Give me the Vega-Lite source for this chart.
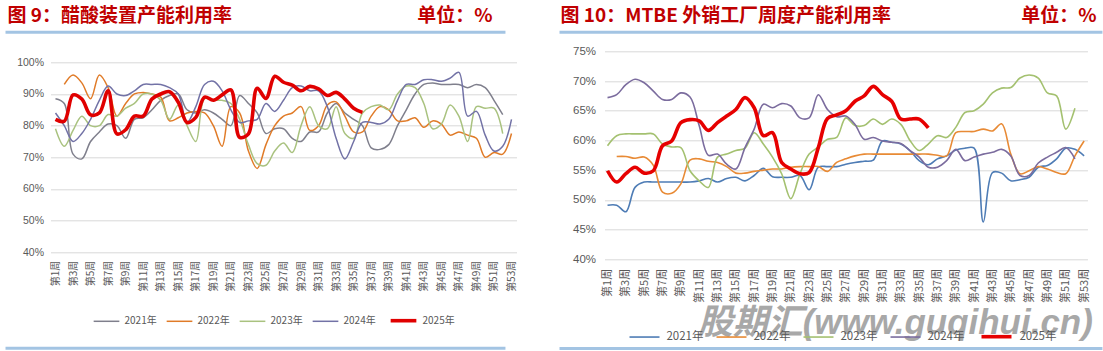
{
"$schema":"https://vega.github.io/schema/vega-lite/v6.json",
"background":"white",
"padding":{"left":3.5,"top":6.3,"right":0,"bottom":0},
"spacing":40,
"config":{"view":{"stroke":null},"font":"Noto Sans CJK SC"},
"resolve":{"scale":{"color":"independent","strokeWidth":"independent"}},
"datasets":{
"acetic":[
{"year":"2021年","week":1,"value":88.5},{"year":"2021年","week":2,"value":87},{"year":"2021年","week":3,"value":71},{"year":"2021年","week":4,"value":69.5},{"year":"2021年","week":5,"value":75},{"year":"2021年","week":6,"value":78},{"year":"2021年","week":7,"value":80.5},{"year":"2021年","week":8,"value":80},{"year":"2021年","week":9,"value":76},{"year":"2021年","week":10,"value":82},
{"year":"2021年","week":11,"value":82.5},{"year":"2021年","week":12,"value":85},{"year":"2021年","week":13,"value":88},{"year":"2021年","week":14,"value":89.5},{"year":"2021年","week":15,"value":90},{"year":"2021年","week":16,"value":85},{"year":"2021年","week":17,"value":84},{"year":"2021年","week":18,"value":85},{"year":"2021年","week":19,"value":84},{"year":"2021年","week":20,"value":82},
{"year":"2021年","week":21,"value":80},{"year":"2021年","week":22,"value":89.5},{"year":"2021年","week":23,"value":87},{"year":"2021年","week":24,"value":84},{"year":"2021年","week":25,"value":77.5},{"year":"2021年","week":26,"value":79},{"year":"2021年","week":27,"value":79},{"year":"2021年","week":28,"value":76},{"year":"2021年","week":29,"value":75},{"year":"2021年","week":30,"value":78},
{"year":"2021年","week":31,"value":78},{"year":"2021年","week":32,"value":84},{"year":"2021年","week":33,"value":87},{"year":"2021年","week":34,"value":84},{"year":"2021年","week":35,"value":82},{"year":"2021年","week":36,"value":80},{"year":"2021年","week":37,"value":73},{"year":"2021年","week":38,"value":72.5},{"year":"2021年","week":39,"value":74},{"year":"2021年","week":40,"value":80},
{"year":"2021年","week":41,"value":85},{"year":"2021年","week":42,"value":90},{"year":"2021年","week":43,"value":93},{"year":"2021年","week":44,"value":93.5},{"year":"2021年","week":45,"value":93},{"year":"2021年","week":46,"value":93},{"year":"2021年","week":47,"value":93},{"year":"2021年","week":48,"value":92},{"year":"2021年","week":49,"value":93},{"year":"2021年","week":50,"value":92},
{"year":"2021年","week":51,"value":88},{"year":"2021年","week":52,"value":83.5},
{"year":"2022年","week":2,"value":93},{"year":"2022年","week":3,"value":96},{"year":"2022年","week":4,"value":93.5},{"year":"2022年","week":5,"value":88.5},{"year":"2022年","week":6,"value":96},{"year":"2022年","week":7,"value":92},{"year":"2022年","week":8,"value":83},{"year":"2022年","week":9,"value":87},{"year":"2022年","week":10,"value":90},
{"year":"2022年","week":11,"value":90.5},{"year":"2022年","week":12,"value":90},{"year":"2022年","week":13,"value":89},{"year":"2022年","week":14,"value":81.5},{"year":"2022年","week":15,"value":82.5},{"year":"2022年","week":16,"value":84},{"year":"2022年","week":17,"value":84.5},{"year":"2022年","week":18,"value":84},{"year":"2022年","week":19,"value":80},{"year":"2022年","week":20,"value":73.5},
{"year":"2022年","week":21,"value":86},{"year":"2022年","week":22,"value":84},{"year":"2022年","week":23,"value":72},{"year":"2022年","week":24,"value":66.5},{"year":"2022年","week":25,"value":74},{"year":"2022年","week":26,"value":80},{"year":"2022年","week":27,"value":83},{"year":"2022年","week":28,"value":84},{"year":"2022年","week":29,"value":86},{"year":"2022年","week":30,"value":78.5},
{"year":"2022年","week":31,"value":80},{"year":"2022年","week":32,"value":86.5},{"year":"2022年","week":33,"value":87.5},{"year":"2022年","week":34,"value":83},{"year":"2022年","week":35,"value":78},{"year":"2022年","week":36,"value":78},{"year":"2022年","week":37,"value":83},{"year":"2022年","week":38,"value":86},{"year":"2022年","week":39,"value":85},{"year":"2022年","week":40,"value":81.5},
{"year":"2022年","week":41,"value":81.5},{"year":"2022年","week":42,"value":82.5},{"year":"2022年","week":43,"value":79.5},{"year":"2022年","week":44,"value":81.5},{"year":"2022年","week":45,"value":80.5},{"year":"2022年","week":46,"value":77},{"year":"2022年","week":47,"value":78},{"year":"2022年","week":48,"value":77},{"year":"2022年","week":49,"value":76},{"year":"2022年","week":50,"value":70},
{"year":"2022年","week":51,"value":71.5},{"year":"2022年","week":52,"value":71},{"year":"2022年","week":53,"value":77.5},
{"year":"2023年","week":1,"value":79},{"year":"2023年","week":2,"value":73.5},{"year":"2023年","week":3,"value":78.5},{"year":"2023年","week":4,"value":83},{"year":"2023年","week":5,"value":80},{"year":"2023年","week":6,"value":80},{"year":"2023年","week":7,"value":83.5},{"year":"2023年","week":8,"value":83},{"year":"2023年","week":9,"value":85.5},{"year":"2023年","week":10,"value":87},
{"year":"2023年","week":11,"value":90},{"year":"2023年","week":12,"value":90},{"year":"2023年","week":13,"value":88},{"year":"2023年","week":14,"value":82},{"year":"2023年","week":15,"value":86.5},{"year":"2023年","week":16,"value":80},{"year":"2023年","week":17,"value":75},{"year":"2023年","week":18,"value":88.5},{"year":"2023年","week":19,"value":88},{"year":"2023年","week":20,"value":88},
{"year":"2023年","week":21,"value":87},{"year":"2023年","week":22,"value":82},{"year":"2023年","week":23,"value":74},{"year":"2023年","week":24,"value":68},{"year":"2023年","week":25,"value":67.5},{"year":"2023年","week":26,"value":72},{"year":"2023年","week":27,"value":74.5},{"year":"2023年","week":28,"value":71.5},{"year":"2023年","week":29,"value":80},{"year":"2023年","week":30,"value":86},
{"year":"2023年","week":31,"value":80},{"year":"2023年","week":32,"value":79},{"year":"2023年","week":33,"value":86},{"year":"2023年","week":34,"value":77.5},{"year":"2023年","week":35,"value":76},{"year":"2023年","week":36,"value":84},{"year":"2023年","week":37,"value":86},{"year":"2023年","week":38,"value":86.5},{"year":"2023年","week":39,"value":85},{"year":"2023年","week":40,"value":90},
{"year":"2023年","week":41,"value":92.5},{"year":"2023年","week":42,"value":92},{"year":"2023年","week":43,"value":87},{"year":"2023年","week":44,"value":79},{"year":"2023年","week":45,"value":80.5},{"year":"2023年","week":46,"value":86.5},{"year":"2023年","week":47,"value":83},{"year":"2023年","week":48,"value":75},{"year":"2023年","week":49,"value":86},{"year":"2023年","week":50,"value":85.5},
{"year":"2023年","week":51,"value":85.5},{"year":"2023年","week":52,"value":77.5},
{"year":"2024年","week":1,"value":84},{"year":"2024年","week":2,"value":80},{"year":"2024年","week":3,"value":75},{"year":"2024年","week":4,"value":77.5},{"year":"2024年","week":5,"value":82},{"year":"2024年","week":6,"value":88},{"year":"2024年","week":7,"value":92.5},{"year":"2024年","week":8,"value":90},{"year":"2024年","week":9,"value":89.5},{"year":"2024年","week":10,"value":91},
{"year":"2024年","week":11,"value":93},{"year":"2024年","week":12,"value":93},{"year":"2024年","week":13,"value":93},{"year":"2024年","week":14,"value":92},{"year":"2024年","week":15,"value":90},{"year":"2024年","week":16,"value":81},{"year":"2024年","week":17,"value":86},{"year":"2024年","week":18,"value":93},{"year":"2024年","week":19,"value":94},{"year":"2024年","week":20,"value":91},
{"year":"2024年","week":21,"value":85},{"year":"2024年","week":22,"value":81},{"year":"2024年","week":23,"value":81.5},{"year":"2024年","week":24,"value":82},{"year":"2024年","week":25,"value":87},{"year":"2024年","week":26,"value":84.5},{"year":"2024年","week":27,"value":88},{"year":"2024年","week":28,"value":92},{"year":"2024年","week":29,"value":92.5},{"year":"2024年","week":30,"value":91},
{"year":"2024年","week":31,"value":91},{"year":"2024年","week":32,"value":86},{"year":"2024年","week":33,"value":76},{"year":"2024年","week":34,"value":69.5},{"year":"2024年","week":35,"value":75},{"year":"2024年","week":36,"value":81},{"year":"2024年","week":37,"value":81},{"year":"2024年","week":38,"value":80.5},{"year":"2024年","week":39,"value":82},{"year":"2024年","week":40,"value":88},
{"year":"2024年","week":41,"value":93},{"year":"2024年","week":42,"value":93},{"year":"2024年","week":43,"value":94.5},{"year":"2024年","week":44,"value":94.5},{"year":"2024年","week":45,"value":94},{"year":"2024年","week":46,"value":95},{"year":"2024年","week":47,"value":96.8},{"year":"2024年","week":48,"value":83},{"year":"2024年","week":49,"value":84.5},{"year":"2024年","week":50,"value":77},
{"year":"2024年","week":51,"value":72},{"year":"2024年","week":52,"value":73.5},{"year":"2024年","week":53,"value":82},
{"year":"2025年","week":1,"value":82},{"year":"2025年","week":2,"value":81.4},{"year":"2025年","week":3,"value":89.7},{"year":"2025年","week":4,"value":88.4},{"year":"2025年","week":5,"value":83.4},{"year":"2025年","week":6,"value":84},{"year":"2025年","week":7,"value":91},{"year":"2025年","week":8,"value":77.4},{"year":"2025年","week":9,"value":78.7},{"year":"2025年","week":10,"value":83},
{"year":"2025年","week":11,"value":83},{"year":"2025年","week":12,"value":88.4},{"year":"2025年","week":13,"value":90},{"year":"2025年","week":14,"value":90.7},{"year":"2025年","week":15,"value":87.4},{"year":"2025年","week":16,"value":81},{"year":"2025年","week":17,"value":82.6},{"year":"2025年","week":18,"value":89},{"year":"2025年","week":19,"value":88},{"year":"2025年","week":20,"value":89.7},
{"year":"2025年","week":21,"value":91.3},{"year":"2025年","week":22,"value":76.3},{"year":"2025年","week":23,"value":77.4},{"year":"2025年","week":24,"value":91.8},{"year":"2025年","week":25,"value":88.6},{"year":"2025年","week":26,"value":95.6},{"year":"2025年","week":27,"value":93.7},{"year":"2025年","week":28,"value":92.8},{"year":"2025年","week":29,"value":91},{"year":"2025年","week":30,"value":92.4},
{"year":"2025年","week":31,"value":91.6},{"year":"2025年","week":32,"value":89.5},{"year":"2025年","week":33,"value":90.5},{"year":"2025年","week":34,"value":88.4},{"year":"2025年","week":35,"value":85.5},{"year":"2025年","week":36,"value":84.2}
],
"mtbe":[
{"year":"2021年","week":1,"value":49.1},{"year":"2021年","week":2,"value":49.1},{"year":"2021年","week":3,"value":48},{"year":"2021年","week":4,"value":52.1},{"year":"2021年","week":5,"value":53},{"year":"2021年","week":6,"value":53},{"year":"2021年","week":7,"value":53},{"year":"2021年","week":8,"value":53},{"year":"2021年","week":9,"value":53},{"year":"2021年","week":10,"value":53},
{"year":"2021年","week":11,"value":53.2},{"year":"2021年","week":12,"value":53.6},{"year":"2021年","week":13,"value":53},{"year":"2021年","week":14,"value":53.6},{"year":"2021年","week":15,"value":53.8},{"year":"2021年","week":16,"value":53.2},{"year":"2021年","week":17,"value":54.1},{"year":"2021年","week":18,"value":55.3},{"year":"2021年","week":19,"value":53.9},{"year":"2021年","week":20,"value":53.8},
{"year":"2021年","week":21,"value":53.8},{"year":"2021年","week":22,"value":54.1},{"year":"2021年","week":23,"value":51.7},{"year":"2021年","week":24,"value":55.5},{"year":"2021年","week":25,"value":55.6},{"year":"2021年","week":26,"value":55.6},{"year":"2021年","week":27,"value":56},{"year":"2021年","week":28,"value":56.3},{"year":"2021年","week":29,"value":56.5},{"year":"2021年","week":30,"value":56.7},
{"year":"2021年","week":31,"value":59.9},{"year":"2021年","week":32,"value":59.7},{"year":"2021年","week":33,"value":59.4},{"year":"2021年","week":34,"value":58.3},{"year":"2021年","week":35,"value":56.6},{"year":"2021年","week":36,"value":55.9},{"year":"2021年","week":37,"value":56.9},{"year":"2021年","week":38,"value":57.4},{"year":"2021年","week":39,"value":58.4},{"year":"2021年","week":40,"value":58.7},
{"year":"2021年","week":41,"value":58.7},{"year":"2021年","week":42,"value":46.3},{"year":"2021年","week":43,"value":54.6},{"year":"2021年","week":44,"value":54.5},{"year":"2021年","week":45,"value":53.2},{"year":"2021年","week":46,"value":53.4},{"year":"2021年","week":47,"value":53.8},{"year":"2021年","week":48,"value":55.5},{"year":"2021年","week":49,"value":55.8},{"year":"2021年","week":50,"value":56.9},
{"year":"2021年","week":51,"value":58.7},{"year":"2021年","week":52,"value":58.5},{"year":"2021年","week":53,"value":57.4},
{"year":"2022年","week":2,"value":57.3},{"year":"2022年","week":3,"value":57.3},{"year":"2022年","week":4,"value":57},{"year":"2022年","week":5,"value":57.2},{"year":"2022年","week":6,"value":55.8},{"year":"2022年","week":7,"value":51.3},{"year":"2022年","week":8,"value":51.1},{"year":"2022年","week":9,"value":52.7},{"year":"2022年","week":10,"value":56.7},
{"year":"2022年","week":11,"value":56.9},{"year":"2022年","week":12,"value":56.5},{"year":"2022年","week":13,"value":56.3},{"year":"2022年","week":14,"value":55.6},{"year":"2022年","week":15,"value":54.5},{"year":"2022年","week":16,"value":54.5},{"year":"2022年","week":17,"value":54.8},{"year":"2022年","week":18,"value":55},{"year":"2022年","week":19,"value":55.2},{"year":"2022年","week":20,"value":55.2},
{"year":"2022年","week":21,"value":55.5},{"year":"2022年","week":22,"value":55.6},{"year":"2022年","week":23,"value":55.6},{"year":"2022年","week":24,"value":55.6},{"year":"2022年","week":25,"value":54.8},{"year":"2022年","week":26,"value":56.3},{"year":"2022年","week":27,"value":56.9},{"year":"2022年","week":28,"value":57.4},{"year":"2022年","week":29,"value":57.7},{"year":"2022年","week":30,"value":57.7},
{"year":"2022年","week":31,"value":57.7},{"year":"2022年","week":32,"value":57.7},{"year":"2022年","week":33,"value":57.7},{"year":"2022年","week":34,"value":57.7},{"year":"2022年","week":35,"value":57.7},{"year":"2022年","week":36,"value":57.7},{"year":"2022年","week":37,"value":57.5},{"year":"2022年","week":38,"value":57.4},{"year":"2022年","week":39,"value":61.3},{"year":"2022年","week":40,"value":61.5},
{"year":"2022年","week":41,"value":61.5},{"year":"2022年","week":42,"value":61.9},{"year":"2022年","week":43,"value":61.6},{"year":"2022年","week":44,"value":62.8},{"year":"2022年","week":45,"value":57.7},{"year":"2022年","week":46,"value":54.4},{"year":"2022年","week":47,"value":54.9},{"year":"2022年","week":48,"value":55.6},{"year":"2022年","week":49,"value":55.2},{"year":"2022年","week":50,"value":54.6},
{"year":"2022年","week":51,"value":54.4},{"year":"2022年","week":52,"value":57.4},{"year":"2022年","week":53,"value":59.9},
{"year":"2023年","week":1,"value":59.1},{"year":"2023年","week":2,"value":60.8},{"year":"2023年","week":3,"value":61.1},{"year":"2023年","week":4,"value":61.1},{"year":"2023年","week":5,"value":61.1},{"year":"2023年","week":6,"value":61.1},{"year":"2023年","week":7,"value":59.4},{"year":"2023年","week":8,"value":58.9},{"year":"2023年","week":9,"value":58.8},{"year":"2023年","week":10,"value":54.9},
{"year":"2023年","week":11,"value":53.2},{"year":"2023年","week":12,"value":52.1},{"year":"2023年","week":13,"value":57.2},{"year":"2023年","week":14,"value":57.7},{"year":"2023年","week":15,"value":58.3},{"year":"2023年","week":16,"value":58.7},{"year":"2023年","week":17,"value":61.3},{"year":"2023年","week":18,"value":59.4},{"year":"2023年","week":19,"value":57.2},{"year":"2023年","week":20,"value":54.4},
{"year":"2023年","week":21,"value":50.2},{"year":"2023年","week":22,"value":54.4},{"year":"2023年","week":23,"value":57.7},{"year":"2023年","week":24,"value":58.9},{"year":"2023年","week":25,"value":60.2},{"year":"2023年","week":26,"value":60.5},{"year":"2023年","week":27,"value":63.8},{"year":"2023年","week":28,"value":62.5},{"year":"2023年","week":29,"value":62.5},{"year":"2023年","week":30,"value":63.6},
{"year":"2023年","week":31,"value":62.7},{"year":"2023年","week":32,"value":63.6},{"year":"2023年","week":33,"value":62.7},{"year":"2023年","week":34,"value":60},{"year":"2023年","week":35,"value":58.3},{"year":"2023年","week":36,"value":59.4},{"year":"2023年","week":37,"value":60.8},{"year":"2023年","week":38,"value":60.5},{"year":"2023年","week":39,"value":62.2},{"year":"2023年","week":40,"value":64.7},
{"year":"2023年","week":41,"value":65},{"year":"2023年","week":42,"value":66.1},{"year":"2023年","week":43,"value":68},{"year":"2023年","week":44,"value":68.8},{"year":"2023年","week":45,"value":68.9},{"year":"2023年","week":46,"value":70.5},{"year":"2023年","week":47,"value":71},{"year":"2023年","week":48,"value":70.5},{"year":"2023年","week":49,"value":68},{"year":"2023年","week":50,"value":67.5},
{"year":"2023年","week":51,"value":61.9},{"year":"2023年","week":52,"value":65.4},
{"year":"2024年","week":1,"value":67.2},{"year":"2024年","week":2,"value":67.7},{"year":"2024年","week":3,"value":69.4},{"year":"2024年","week":4,"value":70.3},{"year":"2024年","week":5,"value":69.7},{"year":"2024年","week":6,"value":68.3},{"year":"2024年","week":7,"value":66.9},{"year":"2024年","week":8,"value":66.9},{"year":"2024年","week":9,"value":68},{"year":"2024年","week":10,"value":67.3},
{"year":"2024年","week":11,"value":62.5},{"year":"2024年","week":12,"value":57.5},{"year":"2024年","week":13,"value":57.7},{"year":"2024年","week":14,"value":56},{"year":"2024年","week":15,"value":55.2},{"year":"2024年","week":16,"value":58.8},{"year":"2024年","week":17,"value":61.9},{"year":"2024年","week":18,"value":66.1},{"year":"2024年","week":19,"value":65.5},{"year":"2024年","week":20,"value":66.2},
{"year":"2024年","week":21,"value":65.8},{"year":"2024年","week":22,"value":63.8},{"year":"2024年","week":23,"value":63.8},{"year":"2024年","week":24,"value":67.7},{"year":"2024年","week":25,"value":65.2},{"year":"2024年","week":26,"value":64},{"year":"2024年","week":27,"value":64.1},{"year":"2024年","week":28,"value":62.7},{"year":"2024年","week":29,"value":60.2},{"year":"2024年","week":30,"value":60.5},
{"year":"2024年","week":31,"value":59.9},{"year":"2024年","week":32,"value":59.7},{"year":"2024年","week":33,"value":59.5},{"year":"2024年","week":34,"value":58.3},{"year":"2024年","week":35,"value":57.2},{"year":"2024年","week":36,"value":55.5},{"year":"2024年","week":37,"value":55.5},{"year":"2024年","week":38,"value":56.6},{"year":"2024年","week":39,"value":58.5},{"year":"2024年","week":40,"value":56.6},
{"year":"2024年","week":41,"value":57.2},{"year":"2024年","week":42,"value":57.7},{"year":"2024年","week":43,"value":58},{"year":"2024年","week":44,"value":58.5},{"year":"2024年","week":45,"value":57.4},{"year":"2024年","week":46,"value":54.1},{"year":"2024年","week":47,"value":54.1},{"year":"2024年","week":48,"value":56.2},{"year":"2024年","week":49,"value":57.2},{"year":"2024年","week":50,"value":58},
{"year":"2024年","week":51,"value":58.8},{"year":"2024年","week":52,"value":56.9},
{"year":"2025年","week":1,"value":54.9},{"year":"2025年","week":2,"value":53},{"year":"2025年","week":3,"value":54.4},{"year":"2025年","week":4,"value":55.5},{"year":"2025年","week":5,"value":54.5},{"year":"2025年","week":6,"value":54.9},{"year":"2025年","week":7,"value":59.1},{"year":"2025年","week":8,"value":59.9},{"year":"2025年","week":9,"value":63},{"year":"2025年","week":10,"value":63.5},
{"year":"2025年","week":11,"value":63.3},{"year":"2025年","week":12,"value":61.7},{"year":"2025年","week":13,"value":63},{"year":"2025年","week":14,"value":64.1},{"year":"2025年","week":15,"value":65.2},{"year":"2025年","week":16,"value":67.2},{"year":"2025年","week":17,"value":65.5},{"year":"2025年","week":18,"value":60.8},{"year":"2025年","week":19,"value":61.3},{"year":"2025年","week":20,"value":56.3},
{"year":"2025年","week":21,"value":55.2},{"year":"2025年","week":22,"value":54.4},{"year":"2025年","week":23,"value":54.6},{"year":"2025年","week":24,"value":58.8},{"year":"2025年","week":25,"value":63.7},{"year":"2025年","week":26,"value":64.3},{"year":"2025年","week":27,"value":65},{"year":"2025年","week":28,"value":66.6},{"year":"2025年","week":29,"value":67.5},{"year":"2025年","week":30,"value":69.1},
{"year":"2025年","week":31,"value":67.7},{"year":"2025年","week":32,"value":66.6},{"year":"2025年","week":33,"value":63.6},{"year":"2025年","week":34,"value":63.6},{"year":"2025年","week":35,"value":63.6},{"year":"2025年","week":36,"value":62.1}
]
},
"hconcat":[
{
"width":466,"height":201,
"resolve":{"axis":{"x":"independent","y":"independent"}},
"layer":[
{"data":{"name":"acetic"},
 "mark":{"type":"line","interpolate":"catmull-rom","clip":false},
 "encoding":{
  "x":{"field":"week","type":"quantitative","scale":{"domain":[0.43,53.57],"nice":false,"zero":false},
   "axis":{"title":null,"values":[1,3,5,7,9,11,13,15,17,19,21,23,25,27,29,31,33,35,37,39,41,43,45,47,49,51,53],"labelExpr":"'第' + datum.value + '周'","labelAngle":-90,"labelAlign":"right","labelBaseline":"middle","grid":false,"domain":false,"ticks":false,"labelPadding":8,"labelFontSize":10,"labelFont":"Noto Sans CJK SC","labelColor":"#595959","labelOverlap":false,"labelBound":false,"labelFlush":false}},
  "y":{"field":"value","type":"quantitative","scale":{"domain":[40,103.474],"nice":false,"zero":false},
   "axis":{"title":null,"values":[40,50,60,70,80,90,100],"labelExpr":"datum.value + '%'","grid":true,"gridColor":"#D9D9D9","gridWidth":1,"domain":false,"ticks":false,"labelPadding":7,"labelColor":"#595959","labelFontSize":10.5,"labelFont":"Liberation Sans","labelOverlap":false}},
  "color":{"field":"year","type":"nominal","scale":{"domain":["2021年","2022年","2023年","2024年","2025年"],"range":["#7F7F8C","#E07B28","#A9C27F","#7272A6","#E00000"]},
   "legend":{"title":null,"orient":"none","legendX":42,"legendY":254,"direction":"horizontal","symbolType":"stroke","symbolSize":660,"labelFontSize":10,"labelColor":"#595959","labelFont":"Noto Sans CJK SC","labelOffset":4,"columnPadding":6,"padding":0}},
  "strokeWidth":{"field":"year","type":"nominal","scale":{"type":"ordinal","domain":["2021年","2022年","2023年","2024年","2025年"],"range":[1.5,1.5,1.5,1.5,3.6]},
   "legend":{"title":null,"orient":"none","legendX":42,"legendY":254,"direction":"horizontal","symbolType":"stroke","symbolSize":660,"labelFontSize":10,"labelColor":"#595959","labelFont":"Noto Sans CJK SC","labelOffset":4,"columnPadding":6,"padding":0}}
 }},
{"data":{"values":[{}]},
 "mark":{"type":"rule","color":"#A3C4E3","strokeWidth":3,"clip":false},
 "encoding":{"x":{"datum":-4.7,"type":"quantitative","axis":null},"x2":{"datum":52.31},"y":{"datum":109.47,"type":"quantitative","axis":null}}},
{"data":{"values":[{}]},
 "mark":{"type":"rule","color":"#A3C4E3","strokeWidth":3,"clip":false},
 "encoding":{"x":{"datum":-4.7,"type":"quantitative","axis":null},"x2":{"datum":52.31},"y":{"datum":9.68,"type":"quantitative","axis":null}}},
{"data":{"values":[{}]},
 "mark":{"type":"text","align":"left","baseline":"middle","fontSize":19,"fontWeight":"bold","color":"#C00000","font":"Noto Sans CJK SC","clip":false},
 "encoding":{"x":{"datum":-4.47,"type":"quantitative","axis":null},"y":{"datum":114.59,"type":"quantitative","axis":null},"text":{"value":"图 9：醋酸装置产能利用率"}}},
{"data":{"values":[{}]},
 "mark":{"type":"text","align":"right","baseline":"middle","fontSize":19,"fontWeight":"bold","color":"#C00000","font":"Noto Sans CJK SC","clip":false},
 "encoding":{"x":{"datum":50.83,"type":"quantitative","axis":null},"y":{"datum":114.59,"type":"quantitative","axis":null},"text":{"value":"单位：%"}}}
]
},
{
"width":483,"height":208,
"resolve":{"axis":{"x":"independent","y":"independent"}},
"layer":[
{"data":{"name":"mtbe"},
 "mark":{"type":"line","interpolate":"catmull-rom","clip":false},
 "encoding":{
  "x":{"field":"week","type":"quantitative","scale":{"domain":[0.67,53.37],"nice":false,"zero":false},
   "axis":{"title":null,"values":[1,3,5,7,9,11,13,15,17,19,21,23,25,27,29,31,33,35,37,39,41,43,45,47,49,51,53],"labelExpr":"'第' + datum.value + '周'","labelAngle":-90,"labelAlign":"right","labelBaseline":"middle","grid":false,"domain":false,"ticks":false,"labelPadding":9,"labelFontSize":11,"labelFont":"Noto Sans CJK SC","labelColor":"#595959","labelOverlap":false,"labelBound":false,"labelFlush":false}},
  "y":{"field":"value","type":"quantitative","scale":{"domain":[40,75],"nice":false,"zero":false},
   "axis":{"title":null,"values":[40,45,50,55,60,65,70,75],"labelExpr":"datum.value + '%'","grid":true,"gridColor":"#D9D9D9","gridWidth":1,"domain":false,"ticks":false,"labelPadding":9,"labelColor":"#595959","labelFontSize":11.5,"labelFont":"Liberation Sans","labelOverlap":false}},
  "color":{"field":"year","type":"nominal","scale":{"domain":["2021年","2022年","2023年","2024年","2025年"],"range":["#4E7CB5","#E88A35","#A4C170","#7B6C9E","#E60000"]},
   "legend":{"title":null,"orient":"none","legendX":24,"legendY":268,"direction":"horizontal","symbolType":"stroke","symbolSize":900,"labelFontSize":11.5,"labelColor":"#595959","labelFont":"Noto Sans CJK SC","labelOffset":6,"columnPadding":8,"padding":0}},
  "strokeWidth":{"field":"year","type":"nominal","scale":{"type":"ordinal","domain":["2021年","2022年","2023年","2024年","2025年"],"range":[1.6,1.6,1.6,1.6,3.6]},
   "legend":{"title":null,"orient":"none","legendX":24,"legendY":268,"direction":"horizontal","symbolType":"stroke","symbolSize":900,"labelFontSize":11.5,"labelColor":"#595959","labelFont":"Noto Sans CJK SC","labelOffset":6,"columnPadding":8,"padding":0}}
 }},
{"data":{"values":[{}]},
 "mark":{"type":"rule","color":"#A3C4E3","strokeWidth":3,"clip":false},
 "encoding":{"x":{"datum":-4.24,"type":"quantitative","axis":null},"x2":{"datum":55.0},"y":{"datum":78.2,"type":"quantitative","axis":null}}},
{"data":{"values":[{}]},
 "mark":{"type":"rule","color":"#A3C4E3","strokeWidth":3,"clip":false},
 "encoding":{"x":{"datum":-4.24,"type":"quantitative","axis":null},"x2":{"datum":55.0},"y":{"datum":25.0,"type":"quantitative","axis":null}}},
{"data":{"values":[{}]},
 "mark":{"type":"text","align":"left","baseline":"middle","fontSize":19,"fontWeight":"bold","color":"#C00000","font":"Noto Sans CJK SC","clip":false},
 "encoding":{"x":{"datum":-4.13,"type":"quantitative","axis":null},"y":{"datum":80.92,"type":"quantitative","axis":null},"text":{"value":"图 10：MTBE 外销工厂周度产能利用率"}}},
{"data":{"values":[{}]},
 "mark":{"type":"text","align":"right","baseline":"middle","fontSize":19,"fontWeight":"bold","color":"#C00000","font":"Noto Sans CJK SC","clip":false},
 "encoding":{"x":{"datum":54.35,"type":"quantitative","axis":null},"y":{"datum":80.92,"type":"quantitative","axis":null},"text":{"value":"单位：%"}}},
{"data":{"values":[{}]},
 "mark":{"type":"text","align":"center","baseline":"middle","fontSize":35,"fontWeight":"bold","fontStyle":"italic","color":"#8C8C8C","opacity":0.75,"font":"Liberation Sans, Noto Sans CJK SC","clip":false},
 "encoding":{"x":{"datum":32.4,"type":"quantitative","axis":null},"y":{"datum":29.2,"type":"quantitative","axis":null},"text":{"value":"股期汇(www.guqihui.cn)"}}}
]
}
]
}
